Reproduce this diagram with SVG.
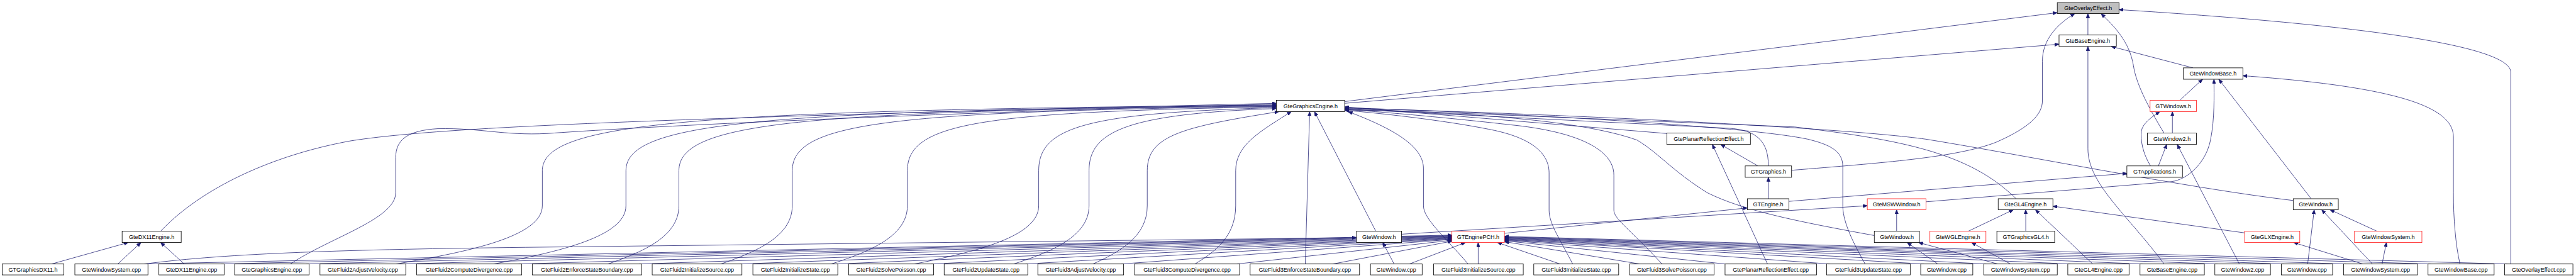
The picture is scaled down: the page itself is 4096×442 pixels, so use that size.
<svg xmlns="http://www.w3.org/2000/svg" width="4096" height="442" viewBox="0 0 4096 442">
<style>
.n rect{fill:#fff;stroke:#000;stroke-width:1.2}
.n.r rect{stroke:#ff2020}
.n.g rect{fill:#bfbfbf}
.n text{font-family:"Liberation Sans",Arial,sans-serif;font-size:13px;fill:#000;text-anchor:middle}
#connectors path{fill:none;stroke:#191970;stroke-width:1.1;marker-end:url(#ah)}
</style>
<defs>
<marker id="ah" viewBox="0 0 10 8" refX="10" refY="4" markerWidth="10" markerHeight="8" markerUnits="userSpaceOnUse" orient="auto">
<path d="M0,0 L10,4 L0,8 z" fill="#191970" stroke="#191970"/>
</marker>
</defs>
<rect width="4096" height="442" fill="#fff"/>
<g transform="scale(0.696)">
<g id="connectors">
<path d="M3072,232 L4700,29"/>
<path d="M3072,236 L4704,101"/>
<path d="M4770,80 L4770,31"/>
<path d="M4093,389 C4300,372 4470,360 4560,325 C4640,290 4666,260 4666,230 L4666,140 C4666,90 4700,55 4740,31"/>
<path d="M4944,304 C4905,240 4880,190 4874,150 C4865,95 4830,60 4800,31"/>
<path d="M5736,603 L5736,165 C5736,110 5450,60 4841,22"/>
<path d="M5010,155 L4823,106"/>
<path d="M4944,603 C4860,490 4770,420 4770,340 L4770,106"/>
<path d="M4980,229 L5032,181"/>
<path d="M4400,461 L4960,415 C5000,410 5040,370 5050,320 C5060,270 5058,220 5058,181"/>
<path d="M5280,454 L5069,181"/>
<path d="M5620,603 C5610,560 5605,500 5605,440 L5605,313 C5605,250 5500,200 5124,173"/>
<path d="M4963,304 L4963,255"/>
<path d="M4913,379 C4895,350 4890,320 4892,300 C4895,280 4920,265 4934,255"/>
<path d="M4931,379 L4950,330"/>
<path d="M5116,603 L4974,330"/>
<path d="M4087,460 L4859,396"/>
<path d="M4040,454 L4040,405"/>
<path d="M4016,379 L3931,330"/>
<path d="M4040,379 C4040,320 4010,297 3950,293 L3072,249"/>
<path d="M4038,603 L3912,330"/>
<path d="M3808,305 L3072,244"/>
<path d="M3437,533 L3992,475"/>
<path d="M3202,535 L4266,470"/>
<path d="M3143,528 L3003,255"/>
<path d="M3185,603 L3159,554"/>
<path d="M330,603 C520,578 800,570 1200,565 L3099,543"/>
<path d="M4333,528 L4333,479"/>
<path d="M4282,538 C4100,505 3980,480 3900,440 C3820,390 3790,350 3740,320 C3600,270 3300,255 3072,251"/>
<path d="M4427,603 L4357,554"/>
<path d="M4564,603 L4383,554"/>
<path d="M4593,603 L4504,554"/>
<path d="M4497,528 L4600,479"/>
<path d="M4628,528 L4628,479"/>
<path d="M4781,603 L4650,479"/>
<path d="M5128,532 L4690,471"/>
<path d="M4606,454 C4500,350 4350,320 4100,290 L3072,248"/>
<path d="M5239,458 C5000,430 4600,350 4400,318 C4200,290 3500,258 3072,247"/>
<path d="M4261,603 C4225,540 4210,500 4210,470 L4210,380 C4210,345 4180,330 4130,318 C4000,290 3500,260 3072,246"/>
<path d="M3354,603 C3300,540 3252,500 3252,470 L3252,385 C3252,340 3200,300 3080,255"/>
<path d="M3593,603 C3560,540 3539,510 3539,480 L3539,395 C3539,340 3480,310 3400,295 C3300,275 3150,258 3072,252"/>
<path d="M3797,603 C3720,520 3687,500 3687,480 L3687,400 C3687,340 3600,300 3450,285 C3300,268 3150,255 3072,250"/>
<path d="M367,528 C460,430 620,355 800,322 C1000,290 1500,270 2916,236"/>
<path d="M663,603 C760,540 904,500 904,440 L904,360 C904,320 930,298 1000,294 C1100,292 1150,310 1250,305 C1600,280 2400,250 2916,238"/>
<path d="M905,603 C1072,575 1239,540 1239,470 L1239,390 C1239,280 1574,252 2916,240"/>
<path d="M1128,603 C1279,575 1430,540 1430,470 L1430,390 C1430,280 1727,253 2916,241"/>
<path d="M1389,603 C1470,575 1551,540 1551,470 L1551,390 C1551,280 1824,254 2916,242"/>
<path d="M1647,603 C1728,575 1810,540 1810,470 L1810,390 C1810,280 2031,255 2916,243"/>
<path d="M1899,603 C1986,575 2073,540 2073,470 L2073,390 C2073,280 2242,256 2916,244"/>
<path d="M2089,603 C2231,575 2373,540 2373,470 L2373,390 C2373,290 2482,258 2916,246"/>
<path d="M2316,603 C2402,575 2488,540 2488,470 L2488,390 C2488,300 2574,260 2916,248"/>
<path d="M2497,603 C2559,575 2621,540 2621,470 L2621,390 C2621,310 2700,290 2922,255"/>
<path d="M2730,603 C2776,575 2823,540 2823,470 L2823,390 C2823,330 2880,300 2950,255"/>
<path d="M2982,603 L2992,255"/>
<path d="M330,603 L3317,537"/>
<path d="M505,603 L3317,538"/>
<path d="M700,603 L3317,539"/>
<path d="M915,603 L3317,540"/>
<path d="M1185,603 L3317,541"/>
<path d="M1460,603 L3317,542"/>
<path d="M1690,603 L3317,543"/>
<path d="M1910,603 L3317,544"/>
<path d="M2128,603 L3317,545"/>
<path d="M2343,603 L3317,546"/>
<path d="M2562,603 L3317,547"/>
<path d="M2826,603 L3317,549"/>
<path d="M3045,603 L3317,551"/>
<path d="M3220,603 L3348,554"/>
<path d="M3377,603 L3377,554"/>
<path d="M3564,603 L3421,554"/>
<path d="M3746,603 L3437,552"/>
<path d="M3941,603 L3437,550"/>
<path d="M4180,603 L3437,549"/>
<path d="M4395,603 L3437,548"/>
<path d="M4538,603 L3437,547"/>
<path d="M4730,603 L3437,546"/>
<path d="M4895,603 L3437,545"/>
<path d="M5066,603 L3437,544"/>
<path d="M5218,603 L3437,543"/>
<path d="M5360,603 L3437,542"/>
<path d="M5553,603 L3437,541"/>
<path d="M5728,603 L3437,540"/>
<path d="M118,603 L293,554"/>
<path d="M269,603 L322,554"/>
<path d="M421,603 L367,554"/>
<path d="M5272,603 L5287,479"/>
<path d="M5420,603 L5304,479"/>
<path d="M5430,528 L5323,479"/>
<path d="M5398,603 L5240,554"/>
<path d="M5442,603 L5452,554"/>
</g>
<g id="n_overlay_h" class="n g"><rect x="4700" y="6" width="141" height="25"/><text x="4770.5" y="23">GteOverlayEffect.h</text></g>
<g id="n_base_h" class="n"><rect x="4704" y="80" width="131" height="26"/><text x="4769.5" y="97.5">GteBaseEngine.h</text></g>
<g id="n_winbase_h" class="n"><rect x="4988" y="155" width="136" height="26"/><text x="5056" y="172.5">GteWindowBase.h</text></g>
<g id="n_gfx_h" class="n"><rect x="2916" y="229" width="156" height="26"/><text x="2994" y="246.5">GteGraphicsEngine.h</text></g>
<g id="n_gtwindows_h" class="n r"><rect x="4912" y="229" width="106" height="26"/><text x="4965" y="246.5">GTWindows.h</text></g>
<g id="n_planar_h" class="n"><rect x="3808" y="304" width="191" height="26"/><text x="3903.5" y="321.5">GtePlanarReflectionEffect.h</text></g>
<g id="n_window2_h" class="n"><rect x="4906" y="304" width="112" height="26"/><text x="4962" y="321.5">GteWindow2.h</text></g>
<g id="n_gtgraphics_h" class="n"><rect x="3987" y="379" width="106" height="26"/><text x="4040" y="396.5">GTGraphics.h</text></g>
<g id="n_gtapps_h" class="n"><rect x="4859" y="379" width="127" height="26"/><text x="4922.5" y="396.5">GTApplications.h</text></g>
<g id="n_gtengine_h" class="n"><rect x="3992" y="454" width="95" height="25"/><text x="4039.5" y="471">GTEngine.h</text></g>
<g id="n_msw_h" class="n r"><rect x="4266" y="454" width="134" height="25"/><text x="4333" y="471">GteMSWWindow.h</text></g>
<g id="n_gl4_h" class="n"><rect x="4565" y="454" width="125" height="25"/><text x="4627.5" y="471">GteGL4Engine.h</text></g>
<g id="n_winR_h" class="n"><rect x="5239" y="454" width="103" height="25"/><text x="5290.5" y="471">GteWindow.h</text></g>
<g id="n_dx11_h" class="n"><rect x="279" y="528" width="135" height="26"/><text x="346.5" y="545.5">GteDX11Engine.h</text></g>
<g id="n_winL_h" class="n"><rect x="3099" y="528" width="103" height="26"/><text x="3150.5" y="545.5">GteWindow.h</text></g>
<g id="n_pch_h" class="n r"><rect x="3317" y="528" width="120" height="26"/><text x="3377" y="545.5">GTEnginePCH.h</text></g>
<g id="n_winM_h" class="n"><rect x="4282" y="528" width="103" height="26"/><text x="4333.5" y="545.5">GteWindow.h</text></g>
<g id="n_wgl_h" class="n r"><rect x="4409" y="528" width="128" height="26"/><text x="4473" y="545.5">GteWGLEngine.h</text></g>
<g id="n_gtgl4_h" class="n"><rect x="4562" y="528" width="132" height="26"/><text x="4628" y="545.5">GTGraphicsGL4.h</text></g>
<g id="n_glx_h" class="n r"><rect x="5128" y="528" width="126" height="26"/><text x="5191" y="545.5">GteGLXEngine.h</text></g>
<g id="n_winsys_h" class="n r"><rect x="5379" y="528" width="154" height="26"/><text x="5456" y="545.5">GteWindowSystem.h</text></g>
<g id="b01" class="n"><rect x="5" y="603" width="141" height="25"/><text x="75.5" y="620">GTGraphicsDX11.h</text></g>
<g id="b02" class="n"><rect x="171" y="603" width="167" height="25"/><text x="254.5" y="620">GteWindowSystem.cpp</text></g>
<g id="b03" class="n"><rect x="363" y="603" width="149" height="25"/><text x="437.5" y="620">GteDX11Engine.cpp</text></g>
<g id="b04" class="n"><rect x="536" y="603" width="170" height="25"/><text x="621" y="620">GteGraphicsEngine.cpp</text></g>
<g id="b05" class="n"><rect x="731" y="603" width="196" height="25"/><text x="829" y="620">GteFluid2AdjustVelocity.cpp</text></g>
<g id="b06" class="n"><rect x="952" y="603" width="240" height="25"/><text x="1072" y="620">GteFluid2ComputeDivergence.cpp</text></g>
<g id="b07" class="n"><rect x="1216" y="603" width="250" height="25"/><text x="1341" y="620">GteFluid2EnforceStateBoundary.cpp</text></g>
<g id="b08" class="n"><rect x="1490" y="603" width="205" height="25"/><text x="1592.5" y="620">GteFluid2InitializeSource.cpp</text></g>
<g id="b09" class="n"><rect x="1720" y="603" width="194" height="25"/><text x="1817" y="620">GteFluid2InitializeState.cpp</text></g>
<g id="b10" class="n"><rect x="1939" y="603" width="194" height="25"/><text x="2036" y="620">GteFluid2SolvePoisson.cpp</text></g>
<g id="b11" class="n"><rect x="2157" y="603" width="191" height="25"/><text x="2252.5" y="620">GteFluid2UpdateState.cpp</text></g>
<g id="b12" class="n"><rect x="2371" y="603" width="196" height="25"/><text x="2469" y="620">GteFluid3AdjustVelocity.cpp</text></g>
<g id="b13" class="n"><rect x="2592" y="603" width="240" height="25"/><text x="2712" y="620">GteFluid3ComputeDivergence.cpp</text></g>
<g id="b14" class="n"><rect x="2856" y="603" width="250" height="25"/><text x="2981" y="620">GteFluid3EnforceStateBoundary.cpp</text></g>
<g id="b15" class="n"><rect x="3131" y="603" width="118" height="25"/><text x="3190" y="620">GteWindow.cpp</text></g>
<g id="b16" class="n"><rect x="3275" y="603" width="205" height="25"/><text x="3377.5" y="620">GteFluid3InitializeSource.cpp</text></g>
<g id="b17" class="n"><rect x="3504" y="603" width="194" height="25"/><text x="3601" y="620">GteFluid3InitializeState.cpp</text></g>
<g id="b18" class="n"><rect x="3723" y="603" width="193" height="25"/><text x="3819.5" y="620">GteFluid3SolvePoisson.cpp</text></g>
<g id="b19" class="n"><rect x="3941" y="603" width="209" height="25"/><text x="4045.5" y="620">GtePlanarReflectionEffect.cpp</text></g>
<g id="b20" class="n"><rect x="4173" y="603" width="191" height="25"/><text x="4268.5" y="620">GteFluid3UpdateState.cpp</text></g>
<g id="b21" class="n"><rect x="4388" y="603" width="119" height="25"/><text x="4447.5" y="620">GteWindow.cpp</text></g>
<g id="b22" class="n"><rect x="4532" y="603" width="168" height="25"/><text x="4616" y="620">GteWindowSystem.cpp</text></g>
<g id="b23" class="n"><rect x="4724" y="603" width="140" height="25"/><text x="4794" y="620">GteGL4Engine.cpp</text></g>
<g id="b24" class="n"><rect x="4889" y="603" width="147" height="25"/><text x="4962.5" y="620">GteBaseEngine.cpp</text></g>
<g id="b25" class="n"><rect x="5060" y="603" width="127" height="25"/><text x="5123.5" y="620">GteWindow2.cpp</text></g>
<g id="b26" class="n"><rect x="5212" y="603" width="117" height="25"/><text x="5270.5" y="620">GteWindow.cpp</text></g>
<g id="b27" class="n"><rect x="5354" y="603" width="169" height="25"/><text x="5438.5" y="620">GteWindowSystem.cpp</text></g>
<g id="b28" class="n"><rect x="5547" y="603" width="151" height="25"/><text x="5622.5" y="620">GteWindowBase.cpp</text></g>
<g id="b29" class="n"><rect x="5722" y="603" width="156" height="25"/><text x="5800" y="620">GteOverlayEffect.cpp</text></g>
</g>
</svg>
